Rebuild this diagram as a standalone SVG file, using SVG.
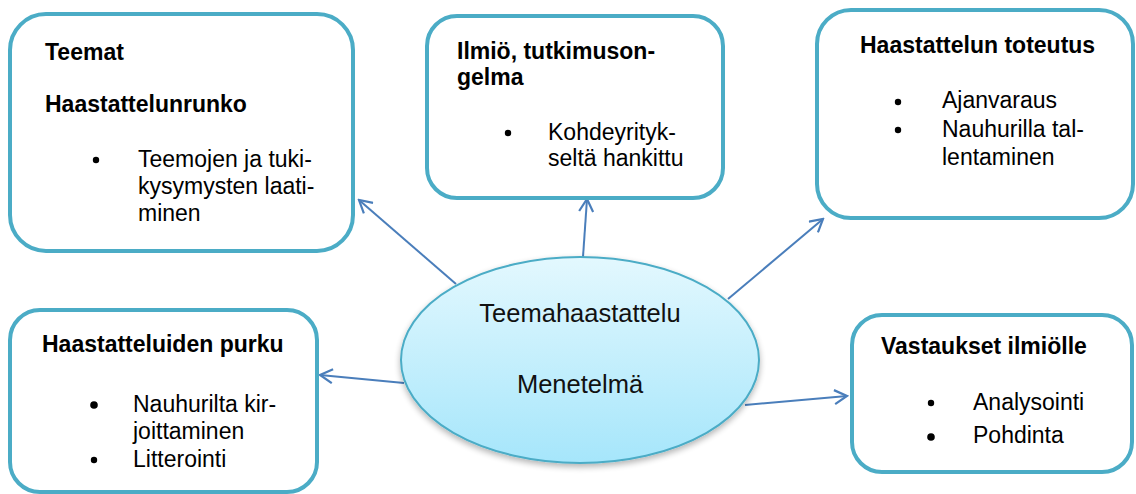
<svg xmlns="http://www.w3.org/2000/svg" width="1136" height="494" viewBox="0 0 1136 494">
  <style>
    .box { fill: #ffffff; stroke: #4bacc6; stroke-width: 4; }
    .t { font-family: "Liberation Sans", Arial, sans-serif; font-size: 23px; fill: #000000; }
    .b { font-weight: bold; }
    .big { font-family: "Liberation Sans", Arial, sans-serif; font-size: 25.5px; fill: #111111; text-anchor: middle; }
    .dot { fill: #000000; }
    .link { stroke: #4a7ebb; stroke-width: 2; fill: none; marker-end: url(#open); }
  </style>
  <defs>
    <linearGradient id="ovalFill" x1="0" y1="0" x2="0" y2="1">
      <stop offset="0" stop-color="#e3f8fe"/>
      <stop offset="1" stop-color="#a6e6fb"/>
    </linearGradient>
    <filter id="soft" x="-10%" y="-10%" width="120%" height="130%">
      <feGaussianBlur in="SourceAlpha" stdDeviation="3"/>
      <feOffset dy="3" result="b"/>
      <feComponentTransfer><feFuncA type="linear" slope="0.3"/></feComponentTransfer>
      <feMerge><feMergeNode/><feMergeNode in="SourceGraphic"/></feMerge>
    </filter>
    <marker id="open" viewBox="0 0 16 16" refX="14" refY="8" markerWidth="16" markerHeight="16" markerUnits="userSpaceOnUse" orient="auto">
      <path d="M1.5,1 L14,8 L1.5,15" fill="none" stroke="#4a7ebb" stroke-width="2.2"/>
    </marker>
  </defs>

  <!-- connectors from the central oval -->
  <g id="connectors">
    <line class="link" x1="456" y1="284" x2="359" y2="200"/>
    <line class="link" x1="583" y1="257" x2="587" y2="199"/>
    <line class="link" x1="728" y1="299" x2="823" y2="219"/>
    <line class="link" x1="404" y1="383" x2="320" y2="375"/>
    <line class="link" x1="745" y1="405" x2="847" y2="396"/>
  </g>

  <g id="teemat">
    <rect class="box" x="10" y="14" width="343" height="237" rx="36"/>
    <text class="t b" x="45" y="60">Teemat</text>
    <text class="t b" x="45" y="112">Haastattelunrunko</text>
    <circle class="dot" cx="96" cy="160" r="3.2"/>
    <text class="t" x="138" y="167">Teemojen ja tuki-</text>
    <text class="t" x="138" y="194">kysymysten laati-</text>
    <text class="t" x="138" y="221">minen</text>
  </g>

  <g id="ilmio">
    <rect class="box" x="427" y="16" width="296" height="182" rx="30"/>
    <text class="t b" x="457" y="59">Ilmiö, tutkimuson-</text>
    <text class="t b" x="457" y="85">gelma</text>
    <circle class="dot" cx="508" cy="133" r="3.2"/>
    <text class="t" x="548" y="140">Kohdeyrityk-</text>
    <text class="t" x="548" y="166">seltä hankittu</text>
  </g>

  <g id="toteutus">
    <rect class="box" x="817" y="10" width="316" height="208" rx="34"/>
    <text class="t b" x="860" y="53">Haastattelun toteutus</text>
    <circle class="dot" cx="898" cy="102" r="3.2"/>
    <text class="t" x="942" y="108">Ajanvaraus</text>
    <circle class="dot" cx="898" cy="130" r="3.2"/>
    <text class="t" x="942" y="137">Nauhurilla tal-</text>
    <text class="t" x="942" y="165">lentaminen</text>
  </g>

  <g id="purku">
    <rect class="box" x="10" y="310" width="307" height="182" rx="30"/>
    <text class="t b" x="42" y="352">Haastatteluiden purku</text>
    <circle class="dot" cx="94" cy="405" r="3.8"/>
    <text class="t" x="133" y="412">Nauhurilta kir-</text>
    <text class="t" x="133" y="439">joittaminen</text>
    <circle class="dot" cx="94" cy="460" r="3.2"/>
    <text class="t" x="133" y="467">Litterointi</text>
  </g>

  <g id="vastaukset">
    <rect class="box" x="852" y="315" width="280" height="157" rx="30"/>
    <text class="t b" x="881" y="354">Vastaukset ilmiölle</text>
    <circle class="dot" cx="931" cy="403" r="3.2"/>
    <text class="t" x="973" y="410">Analysointi</text>
    <circle class="dot" cx="931" cy="437" r="3.8"/>
    <text class="t" x="973" y="443">Pohdinta</text>
  </g>

  <g id="menetelma">
    <ellipse cx="580" cy="360" rx="179" ry="103" fill="url(#ovalFill)" stroke="#4bacc6" stroke-width="2" filter="url(#soft)"/>
    <text class="big" x="580" y="322">Teemahaastattelu</text>
    <text class="big" x="580" y="393">Menetelmä</text>
  </g>
</svg>
